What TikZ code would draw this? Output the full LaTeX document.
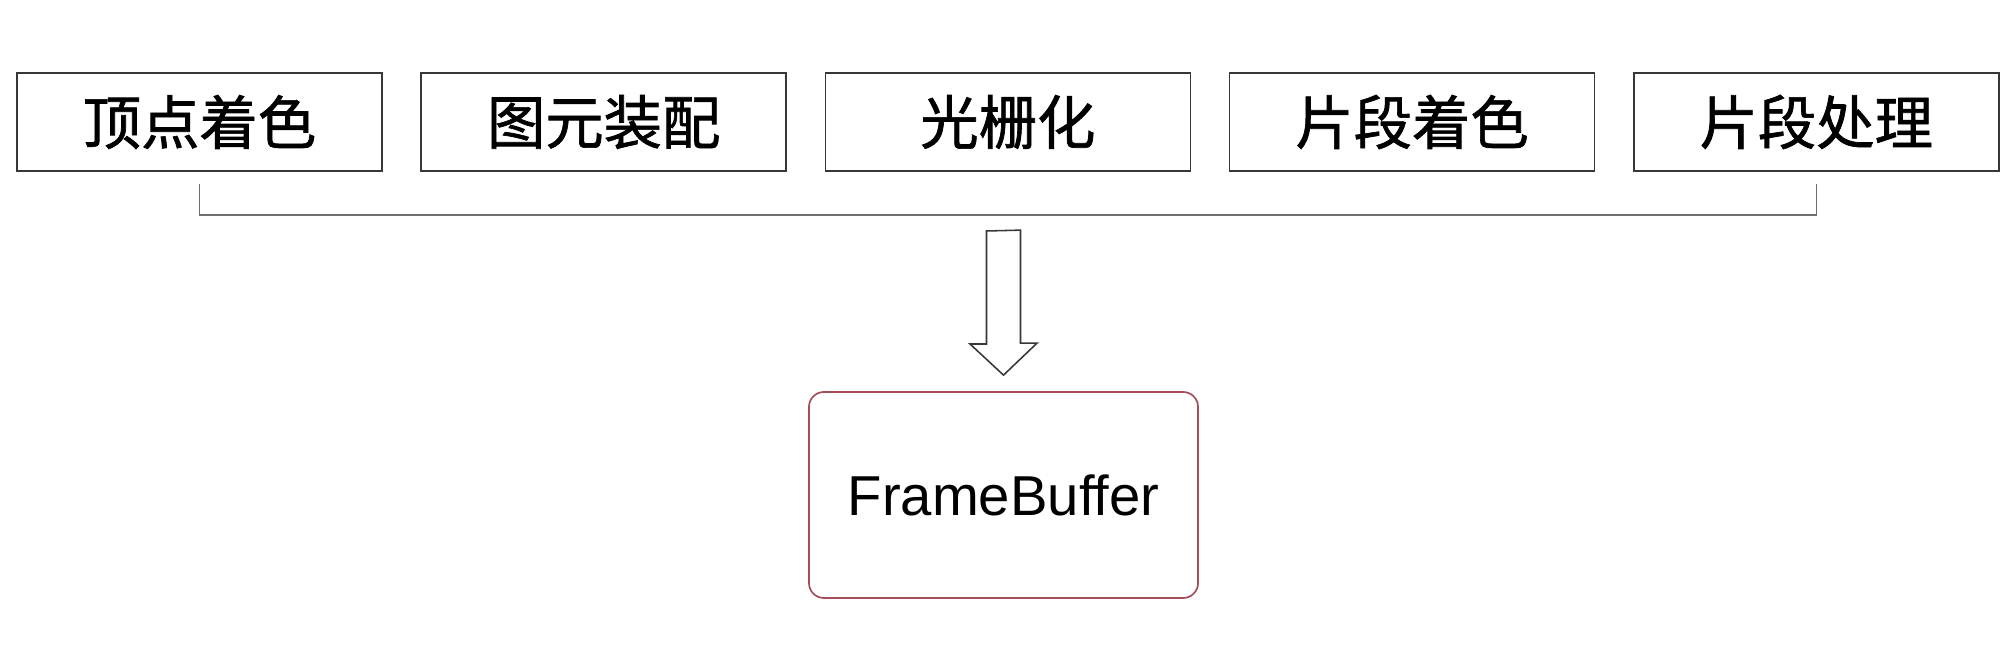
\documentclass[tikz,border=0pt]{standalone}
\usepackage{fontspec}
\setsansfont{Liberation Sans}
\newfontfamily\cjk{Noto Sans CJK SC}[FakeBold=1.2]
\usepackage{tikz}
\usetikzlibrary{positioning, calc}

\definecolor{framered}{RGB}{165,78,90}
\definecolor{boxgray}{RGB}{55,55,55}
\definecolor{bracegray}{RGB}{110,110,110}

\tikzset{
  stage/.style={draw=boxgray, line width=1.2pt, minimum width=9.125cm, minimum height=2.45cm,
    inner sep=0pt, font=\cjk\fontsize{41.5}{48}\selectfont},
  buffer/.style={draw=framered, line width=1.2pt, rounded corners=0.375cm, minimum width=9.725cm,
    minimum height=5.15cm, font=\sffamily\fontsize{40}{46}\selectfont},
  bracket/.style={draw=bracegray, line width=1pt},
  hollow/.style={draw=boxgray, line width=1.1pt, fill=white}
}

\begin{document}
\begin{tikzpicture}[x=0.025cm, y=-0.025cm, node distance=0.935cm]
  \useasboundingbox (0,0) rectangle (2016,668);

  % pipeline stages
  \node[stage] (vert) at (199.5,122) {顶点着色};
  \node[stage, right=of vert] (prim) {图元装配};
  \node[stage, right=of prim] (rast) {光栅化};
  \node[stage, right=of rast] (frag) {片段着色};
  \node[stage, right=of frag] (fop) {片段处理};

  \node[buffer] (fb) at (1003.5,495) {FrameBuffer};

  % bracket under the stages
  \draw[bracket] ([yshift=-0.3cm]vert.south) -- ++(0,31) -| ([yshift=-0.3cm]fop.south);

  % hollow arrow down to the buffer
  \coordinate (tail) at (fb.north |- 0,231);
  \draw[hollow] (tail) ++(-17,0) -- ++(0,113) -- ++(-16.5,0) -- ([yshift=0.4cm]fb.north)
    -- ++(33.5,-32) -- ++(-16.5,0) -- ++(0,-113) -- cycle;
\end{tikzpicture}
\end{document}
